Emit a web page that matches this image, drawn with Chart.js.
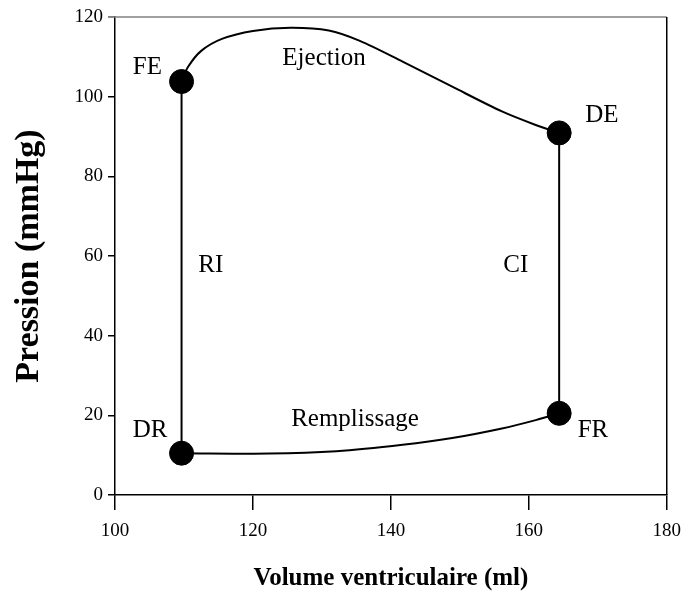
<!DOCTYPE html>
<html>
<head>
<meta charset="utf-8">
<script src="https://cdn.jsdelivr.net/npm/chart.js@4/dist/chart.umd.min.js"></script>
<style>
  html,body{margin:0;padding:0;background:#fff;}
  #wrap{width:691px;height:598px;}
</style>
</head>
<body>
<div id="wrap"><canvas id="pvLoop"></canvas></div>
<script>
// Ejection (FE -> DE)
const ejectionVol  = [109.65, 110.6, 112.5, 115.5, 120.0, 125.5, 131.0, 135.5, 141.7, 148.9, 156.1, 161.0, 164.4];
const ejectionPres = [103.8, 107.5, 111.5, 114.5, 116.5, 117.3, 116.6, 114.0, 108.8, 102.5, 96.3, 92.9, 90.9];

// Remplissage (DR -> FR)
const fillingVol  = [109.65, 122.4, 132.1, 141.7, 148.9, 156.1, 161.0, 164.4];
const fillingPres = [10.5, 10.4, 11.0, 12.6, 14.3, 16.7, 18.8, 20.5];

// points of the cycle
const stateNames = ["FE", "DE", "FR", "DR"];
const stateVol   = [109.65, 164.4, 164.4, 109.65];
const statePres  = [103.8, 90.9, 20.5, 10.5];

// text labels in the plot (volume, pressure)
const noteText = ["FE", "Ejection", "DE", "RI", "CI", "DR", "Remplissage", "FR"];
const noteVol  = [104.7, 130.3, 170.6, 113.9, 158.1, 105.1, 134.8, 169.3];
const notePres = [107.3, 109.6, 95.2, 57.7, 57.7, 16.2, 19.0, 16.1];

const xTicks = [100, 120, 140, 160, 180];
const yTicks = [0, 20, 40, 60, 80, 100, 120];

const serif = "'Liberation Serif', 'Times New Roman', serif";
Chart.defaults.font.family = serif;
Chart.defaults.color = "#000";

function pts(xs, ys){
    let out = [];
    for(let i = 0; i < xs.length; i++){
        out.push({x: xs[i], y: ys[i]});
    }
    return out;
}

const frame = {
    id: "frame",
    afterDatasetsDraw(chart){
        const {ctx, chartArea} = chart;
        const sx = chart.scales.x, sy = chart.scales.y;
        ctx.save();
        // top and right border
        ctx.lineWidth = 1.5;
        ctx.strokeStyle = "#808080";
        ctx.beginPath();
        ctx.moveTo(chartArea.left - 7, chartArea.top);
        ctx.lineTo(chartArea.right, chartArea.top);
        ctx.stroke();
        ctx.strokeStyle = "#000";
        ctx.beginPath();
        ctx.moveTo(chartArea.right, chartArea.top);
        ctx.lineTo(chartArea.right, chartArea.bottom);
        ctx.stroke();
        // labels
        ctx.fillStyle = "#000";
        ctx.font = "25px " + serif;
        ctx.textAlign = "center";
        ctx.textBaseline = "middle";
        for(let i = 0; i < noteText.length; i++){
            ctx.fillText(noteText[i], sx.getPixelForValue(noteVol[i]), sy.getPixelForValue(notePres[i]));
        }
        ctx.restore();
    }
};

const lineStyle = {showLine: true, borderColor: "#000", borderWidth: 2, pointRadius: 0, fill: false};

new Chart(document.getElementById("pvLoop"), {
    type: "scatter",
    data: {
        datasets: [
            Object.assign({label: "Ejection", data: pts(ejectionVol, ejectionPres), tension: 0.3}, lineStyle),
            Object.assign({label: "Remplissage", data: pts(fillingVol, fillingPres), tension: 0.3}, lineStyle),
            Object.assign({label: "RI", data: pts([stateVol[0], stateVol[3]], [statePres[0], statePres[3]]), tension: 0}, lineStyle),
            Object.assign({label: "CI", data: pts([stateVol[1], stateVol[2]], [statePres[1], statePres[2]]), tension: 0}, lineStyle),
            {
                label: "Etats",
                data: pts(stateVol, statePres),
                showLine: false,
                pointRadius: 12,
                pointHoverRadius: 12,
                pointBackgroundColor: "#000",
                pointBorderColor: "#000"
            }
        ]
    },
    options: {
        responsive: true,
        maintainAspectRatio: false,
        animation: false,
        events: [],
        layout: {padding: {top: 17, right: 23, left: 0, bottom: 0}},
        plugins: {legend: {display: false}, tooltip: {enabled: false}},
        scales: {
            x: {
                type: "linear",
                min: 100, max: 180,
                afterBuildTicks: (s) => { s.ticks = xTicks.map(v => ({value: v})); },
                afterFit: (s) => { s.height = 103; },
                grid: {drawOnChartArea: false, tickLength: 15, color: "#000", lineWidth: 1.5},
                border: {color: "#000", width: 1.5},
                ticks: {font: {size: 19}, padding: 10, maxRotation: 0},
                title: {display: true, text: "Volume ventriculaire (ml)", font: {size: 25, weight: "bold"}, padding: {top: 4, bottom: 4}}
            },
            y: {
                type: "linear",
                min: 0, max: 120,
                afterBuildTicks: (s) => { s.ticks = yTicks.map(v => ({value: v})); },
                afterFit: (s) => { s.width = 115; },
                grid: {drawOnChartArea: false, tickLength: 7, color: (c) => c.tick && c.tick.value === 120 ? "#808080" : "#000", lineWidth: 1.5},
                border: {color: "#000", width: 1.5},
                ticks: {font: {size: 19}, padding: 5},
                title: {display: true, text: "Pression (mmHg)", font: {size: 34, weight: "bold"}, padding: {top: 9, bottom: 9}}
            }
        }
    },
    plugins: [frame]
});
</script>
</body>
</html>
